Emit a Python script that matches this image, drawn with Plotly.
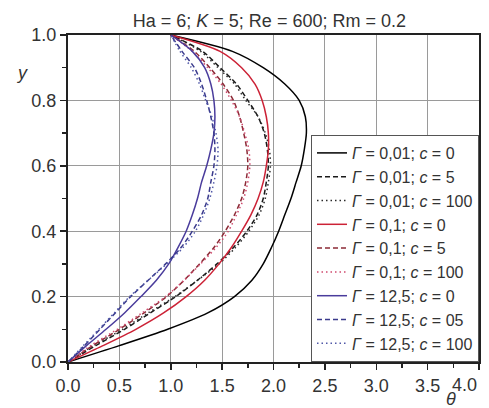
import plotly.graph_objects as go

y_levels = [0, 0.05, 0.1, 0.15, 0.2, 0.25, 0.3, 0.35, 0.4, 0.45, 0.5,
            0.55, 0.6, 0.65, 0.7, 0.75, 0.8, 0.85, 0.9, 0.95, 1.0]

theta_g001_c0 = [0, 0.50, 0.97, 1.36, 1.62, 1.79, 1.90, 1.98, 2.05, 2.11, 2.17,
                 2.22, 2.27, 2.30, 2.32, 2.31, 2.25, 2.11, 1.90, 1.60, 1.0]
theta_g001_c5 = [0, 0.27, 0.55, 0.80, 1.05, 1.26, 1.45, 1.61, 1.74, 1.84, 1.90,
                 1.93, 1.95, 1.94, 1.91, 1.85, 1.75, 1.64, 1.48, 1.31, 1.0]
theta_g001_c100 = [0, 0.25, 0.53, 0.78, 1.04, 1.26, 1.47, 1.63, 1.76, 1.86, 1.92,
                   1.95, 1.97, 1.96, 1.92, 1.85, 1.73, 1.62, 1.46, 1.29, 1.0]
theta_g01_c0 = [0, 0.34, 0.66, 0.93, 1.15, 1.33, 1.47, 1.59, 1.69, 1.78, 1.85,
                1.90, 1.93, 1.95, 1.95, 1.93, 1.89, 1.82, 1.69, 1.48, 1.0]
theta_g01_c5 = [0, 0.24, 0.50, 0.74, 0.96, 1.13, 1.28, 1.42, 1.53, 1.62, 1.69,
                1.73, 1.75, 1.74, 1.71, 1.67, 1.61, 1.51, 1.38, 1.23, 1.0]
theta_g01_c100 = [0, 0.22, 0.48, 0.72, 0.95, 1.13, 1.29, 1.44, 1.56, 1.64, 1.71,
                  1.75, 1.77, 1.76, 1.72, 1.67, 1.59, 1.49, 1.36, 1.21, 1.0]
theta_g125_c0 = [0, 0.18, 0.37, 0.55, 0.71, 0.86, 0.98, 1.07, 1.15, 1.21, 1.26,
                 1.30, 1.35, 1.39, 1.42, 1.43, 1.42, 1.39, 1.33, 1.21, 1.0]
theta_g125_c5 = [0, 0.16, 0.31, 0.46, 0.61, 0.78, 0.95, 1.10, 1.21, 1.30, 1.36,
                 1.39, 1.42, 1.43, 1.42, 1.39, 1.35, 1.30, 1.23, 1.11, 1.0]
theta_g125_c100 = [0, 0.15, 0.30, 0.45, 0.60, 0.78, 0.96, 1.12, 1.24, 1.32, 1.38,
                   1.42, 1.45, 1.46, 1.44, 1.40, 1.34, 1.28, 1.20, 1.09, 1.0]

# axis ticks (the last x label is drawn right-aligned to the frame, as in the reference)
x_tickvals = [0, 0.5, 1.0, 1.5, 2.0, 2.5, 3.0, 3.5, 4.0]
x_ticktext = ["0.0", "0.5", "1.0", "1.5", "2.0", "2.5", "3.0", "3.5", ""]
x_last_label = "4.0"

names = [
    "<i>Γ</i> = 0,01; <i>c</i> = 0",
    "<i>Γ</i> = 0,01; <i>c</i> = 5",
    "<i>Γ</i> = 0,01; <i>c</i> = 100",
    "<i>Γ</i> = 0,1; <i>c</i> = 0",
    "<i>Γ</i> = 0,1; <i>c</i> = 5",
    "<i>Γ</i> = 0,1; <i>c</i> = 100",
    "<i>Γ</i> = 12,5; <i>c</i> = 0",
    "<i>Γ</i> = 12,5; <i>c</i> = 05",
    "<i>Γ</i> = 12,5; <i>c</i> = 100",
]
series = [theta_g001_c0, theta_g001_c5, theta_g001_c100,
          theta_g01_c0, theta_g01_c5, theta_g01_c100,
          theta_g125_c0, theta_g125_c5, theta_g125_c100]
colors = ["#000000", "#1a1a1a", "#2a2a2a",
          "#cc2236", "#8c2a36", "#cf4a6e",
          "#4a3c9c", "#3a3a8c", "#5058a8"]
dashes = ["solid", "5px,3px", "1.5px,3px"] * 3

fig = go.Figure()
for nm, th, col, ds in zip(names, series, colors, dashes):
    fig.add_trace(go.Scatter(
        x=th, y=y_levels, mode="lines", name=nm, hoverinfo="skip",
        line=dict(color=col, width=1.5, dash=ds, shape="spline", smoothing=0.8),
    ))

FONT = "Liberation Sans, Arial, sans-serif"
TXT = dict(family=FONT, size=18, color="#333333")
axis_common = dict(
    automargin=False,
    showgrid=True, gridcolor="#9a9a9a", gridwidth=1,
    showline=True, linecolor="#222222", linewidth=2, mirror=True,
    ticks="outside", ticklen=6, tickwidth=1.5, tickcolor="#222222",
    tickfont=TXT,
    zeroline=False,
)

fig.update_xaxes(range=[0, 4], tickmode="array", tickvals=x_tickvals, ticktext=x_ticktext,
                 minor=dict(dtick=0.25, ticks="outside", ticklen=4, tickcolor="#222222", showgrid=False),
                 **axis_common)
fig.update_yaxes(range=[0, 1], dtick=0.2, tickformat=".1f",
                 minor=dict(dtick=0.1, ticks="outside", ticklen=4, tickcolor="#222222", showgrid=False),
                 **axis_common)

fig.update_layout(
    width=489, height=408,
    margin=dict(l=68, r=10, t=35, b=46),
    paper_bgcolor="white", plot_bgcolor="white",
    hovermode=False,
    title=dict(text="Ha = 6; <i>K</i> = 5; Re = 600; Rm = 0.2",
               xref="paper", x=0.49, xanchor="center",
               yref="container", y=1 - 21 / 408, yanchor="middle",
               font=TXT),
    legend=dict(x=1, xanchor="right", y=0, yanchor="bottom",
                bgcolor="white", bordercolor="#555555", borderwidth=1,
                font=dict(family=FONT, size=16, color="#333333"),
                tracegroupgap=0),
    showlegend=True,
    annotations=[
        dict(text="<i>y</i>", x=-0.112, y=0.884, xref="paper", yref="paper",
             xanchor="center", yanchor="middle", showarrow=False, font=TXT),
        dict(text="<i>θ</i>", x=0.932, y=0, xref="paper", yref="paper",
             xanchor="center", yanchor="middle", yshift=-37, showarrow=False, font=TXT),
        dict(text=x_last_label, x=4, y=0, xref="x", yref="paper",
             xanchor="right", yanchor="middle", yshift=-23, showarrow=False, font=TXT),
    ],
)

fig.write_html("out.html",
               config={"displayModeBar": False, "staticPlot": True},
               post_script="document.body.style.margin='0';document.body.style.overflow='hidden';")
